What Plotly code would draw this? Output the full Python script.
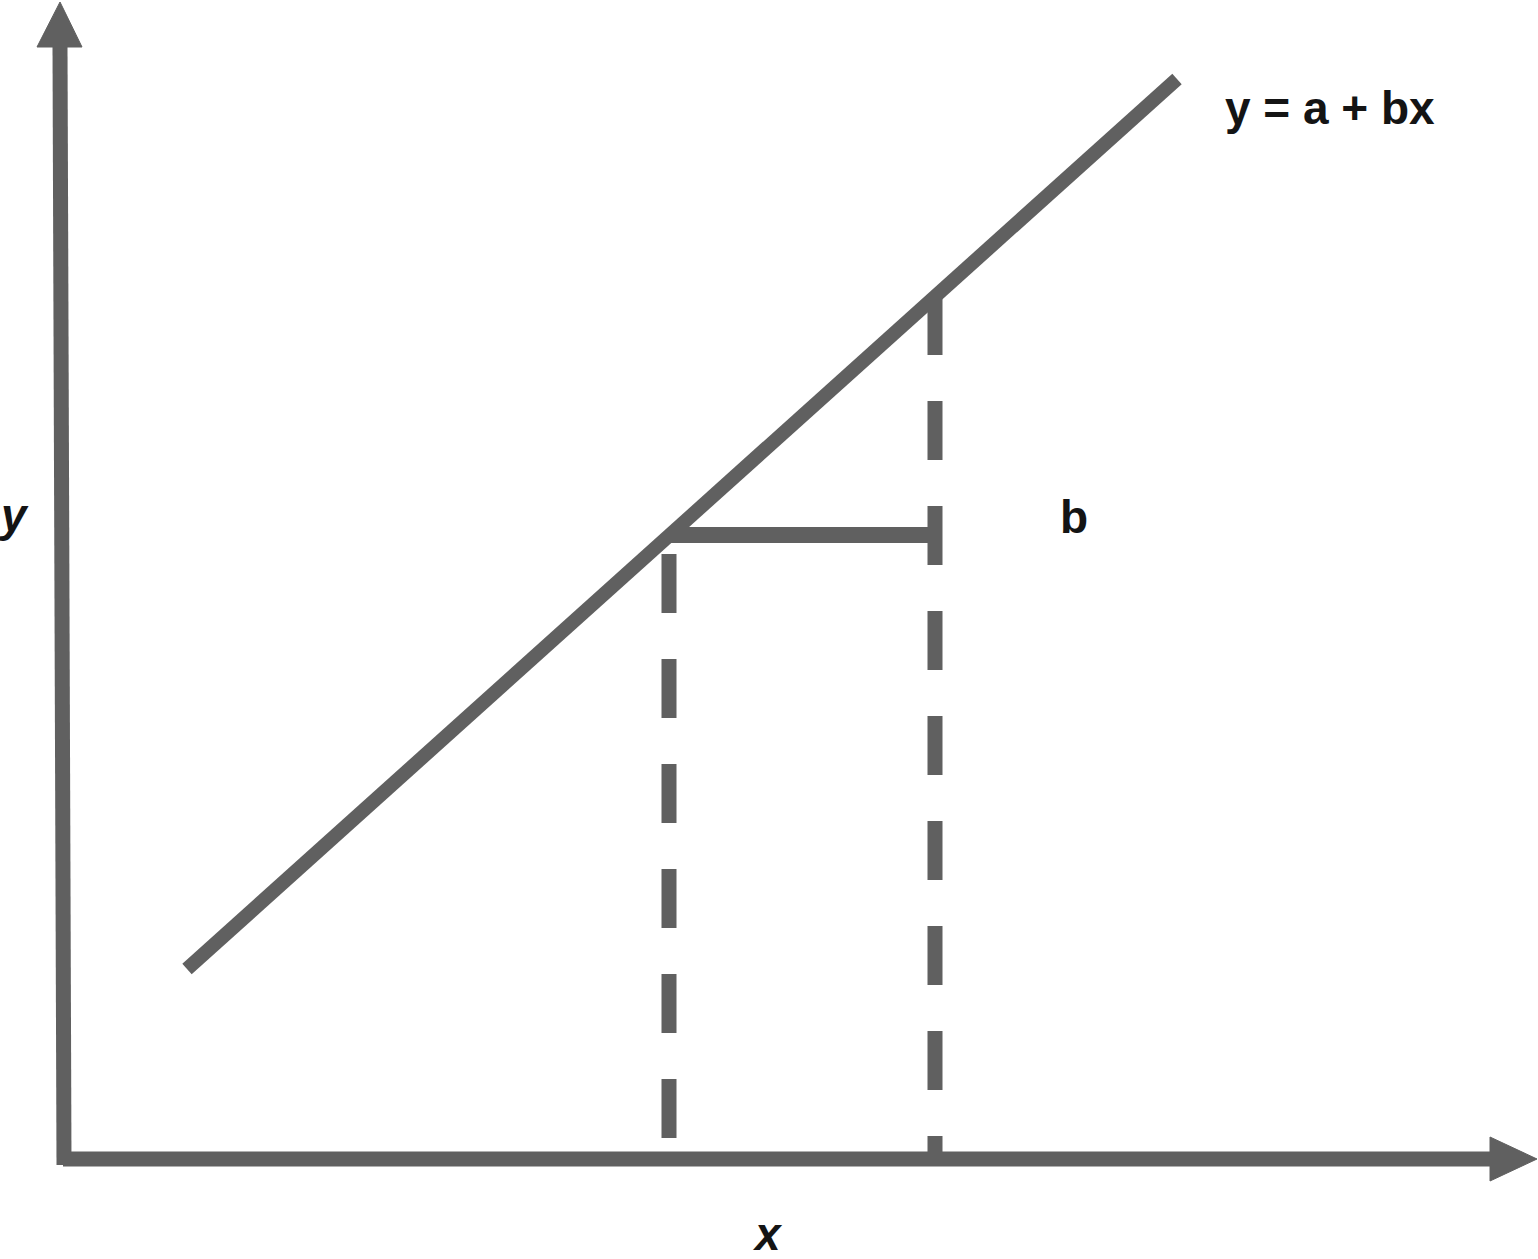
import plotly.graph_objects as go

# ---- data (diagram coordinates; origin at axis intersection) ----
line_x = [1.23, 11.13]
line_y = [1.90, 10.80]

left_drop_x = [6.05, 6.05]
left_drop_y = [6.05, 0.21]

right_drop_x = [8.71, 8.71]
right_drop_y = [8.63, 0.0]

step_x = [6.05, 8.71]
step_y = [6.24, 6.24]

yaxis_x = [-0.04, 0.0]
yaxis_y = [11.12, -0.06]
yarrow_x = [-0.27, 0.18, -0.04]
yarrow_y = [11.12, 11.12, 11.57]

xaxis_x = [-0.01, 14.26]
xaxis_y = [0.0, 0.0]
xarrow_x = [14.26, 14.26, 14.73]
xarrow_y = [0.22, -0.22, 0.0]

labels = ["y = a + bx", "b", "y", "x"]
label_x = [11.59, 9.94, -0.63, 7.03]
label_y = [10.35, 6.26, 6.28, -0.91]

GREY = "#606060"
TXT = "#141414"
W = 15

fig = go.Figure()

def seg(x, y, dash="solid", width=W):
    fig.add_trace(go.Scatter(x=x, y=y, mode="lines",
                             line=dict(color=GREY, width=width, dash=dash),
                             hoverinfo="skip", showlegend=False))

seg(yaxis_x, yaxis_y)
seg(xaxis_x, xaxis_y)
for ax, ay in ((yarrow_x, yarrow_y), (xarrow_x, xarrow_y)):
    fig.add_trace(go.Scatter(x=ax + [ax[0]], y=ay + [ay[0]], mode="lines",
                             fill="toself", fillcolor=GREY,
                             line=dict(color=GREY, width=1),
                             hoverinfo="skip", showlegend=False))
seg(line_x, line_y, width=14)
seg(left_drop_x, left_drop_y, dash="59px,46px")
seg(right_drop_x, right_drop_y, dash="59px,46px")
seg(step_x, step_y, width=16)

font_up = dict(family="Liberation Sans, Arial, sans-serif", size=46, color=TXT)
ann = []
for t, x, y in zip(labels, label_x, label_y):
    italic = t in ("x", "y")
    txt = f"<b><i>{t}</i></b>" if italic else f"<b>{t}</b>"
    anchor = "center" if t == "x" else "left"
    ann.append(dict(x=x, y=y + 0.16, xref="x", yref="y", text=txt,
                    showarrow=False, xanchor=anchor, yanchor="middle",
                    xshift=-4 if t == "y" else 0,
                    font=font_up))
fig.update_layout(annotations=ann)

fig.update_layout(
    width=1538, height=1259,
    margin=dict(l=0, r=0, t=0, b=0),
    paper_bgcolor="white", plot_bgcolor="white",
    xaxis=dict(range=[-0.64, 14.74], visible=False, fixedrange=True),
    yaxis=dict(range=[-1.00, 11.59], visible=False, fixedrange=True),
)

fig.write_html("out.html", config={"displayModeBar": False},
               post_script="document.body.style.margin='0';document.body.style.overflow='hidden';")
